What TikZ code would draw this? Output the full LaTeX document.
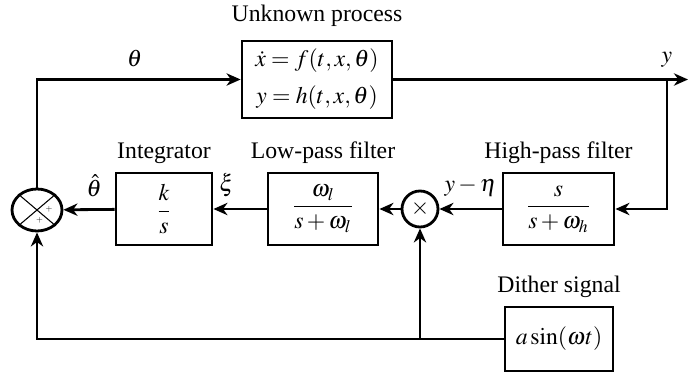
\documentclass[tikz,border=0pt]{standalone}
\usepackage{amsmath}
\usepackage{mathptmx}
\usepackage[no-math]{fontspec}
\setmainfont{Liberation Serif}
\usetikzlibrary{arrows.meta, positioning, shapes.geometric}

\begin{document}
\begin{tikzpicture}[>={Stealth[length=8pt,width=7pt,inset=2.5pt]}, line width=1.6pt,
  font=\fontsize{13.5}{16}\selectfont,
  blk/.style={draw, rectangle, minimum height=1.44cm, inner sep=2pt},
  ttl/.style={inner sep=1pt}]
  \useasboundingbox (0,0) rectangle (13.78,-7.66);

  % Blocks
  \node[blk, minimum width=3.0cm, minimum height=1.54cm, align=center] (proc) at (6.34,-1.59)
    {$\dot{x}=f(t,x,\theta)$\\[5pt]$y=h(t,x,\theta)$};
  \node[blk, minimum width=2.22cm] (hpf) at (11.17,-4.18) {$\dfrac{s}{s+\omega_h}$};
  \node[blk, minimum width=2.2cm] (lpf) at (6.46,-4.18) {$\dfrac{\omega_l}{s+\omega_l}$};
  \node[blk, minimum width=1.92cm] (intg) at (3.28,-4.18) {$\dfrac{k}{s}$};
  \node[blk, minimum width=2.16cm, minimum height=1.28cm] (dither) at (11.18,-6.78) {$a\sin(\omega t)$};

  % Multiplier and summer
  \node[draw, circle, minimum size=0.72cm, inner sep=0pt] (mult) at (8.4,-4.18) {$\times$};
  \node[draw, ellipse, minimum width=1.0cm, minimum height=0.84cm, inner sep=0pt] (sum) at (0.74,-4.2) {};
  \draw[line width=0.6pt] (sum.north west) -- (sum.south east)
    (sum.north east) -- (sum.south west);
  \node[font=\tiny, inner sep=0pt] at ([shift={(0.24,0.02)}]sum.center) {$+$};
  \node[font=\tiny, inner sep=0pt] at ([shift={(0.05,-0.2)}]sum.center) {$+$};

  % Titles
  \node[ttl, above=0.2cm of proc] (procT) {Unknown process};
  \node[ttl, above=0.1cm of hpf] (hpfT) {High-pass filter};
  \node[ttl, above=0.1cm of lpf] (lpfT) {Low-pass filter};
  \node[ttl, above=0.1cm of intg] (intgT) {Integrator};
  \node[ttl, above=0.1cm of dither] (ditherT) {Dither signal};

  % Signals
  \coordinate (ytap) at (13.34,-1.59);
  \coordinate (yend) at (13.76,-1.59);
  \draw[->] (sum) |- node[above=3pt, pos=.74] {$\theta$} (proc);
  \draw[->] (proc) -- (yend);
  \node[above=3pt] at (ytap) {$y$};
  \draw[->] (ytap) |- (hpf);
  \draw[->] (hpf) -- node[above=3pt] {$y-\eta$} (mult);
  \draw[->] (mult) -- (lpf);
  \draw[->] (lpf) -- node[above=3pt, pos=.75] {$\xi$} (intg);
  \draw[->] (intg) -- node[above=3pt, pos=.4] {$\hat{\theta}$} (sum);
  \draw[->] (dither) -| (sum);
  \draw[->] (mult |- dither.west) -- (mult);
\end{tikzpicture}
\end{document}
